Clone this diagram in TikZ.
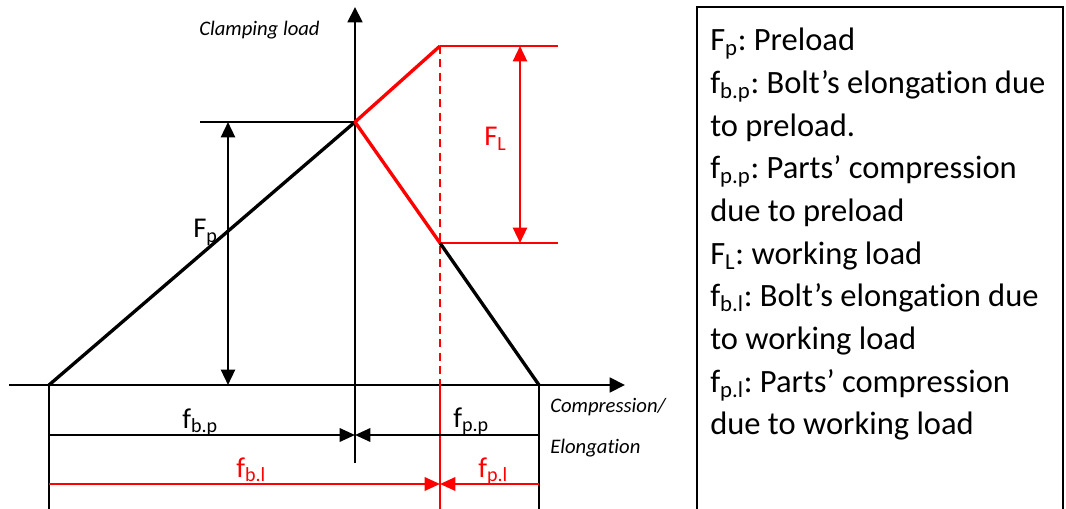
\documentclass[tikz,border=0pt]{standalone}
\usepackage{fontspec}
\setmainfont[Ligatures=NoCommon]{Carlito}
\usetikzlibrary{arrows.meta}
\definecolor{dred}{RGB}{255,0,0}
\tikzset{
  axisline/.style={line width=2.1pt,-{Triangle[length=11.5pt,width=11pt]}},
  curve/.style={line width=2.5pt,line join=round},
  thinline/.style={line width=1.2pt},
  dimline/.style={line width=1.8pt,-{Triangle[length=11.5pt,width=10pt]}},
  loadarrow/.style={line width=1.8pt,{Triangle[length=11.5pt,width=10.5pt]}-{Triangle[length=11.5pt,width=10.5pt]}},
  lbl/.style={font=\fontsize{21.5pt}{24pt}\selectfont,inner sep=0pt,anchor=base west},
  axlbl/.style={font=\fontsize{15.5pt}{18pt}\selectfont\itshape,inner sep=0pt,anchor=base west},
}
\begin{document}
\frenchspacing
\begin{tikzpicture}[x=0.75pt,y=-0.75pt]
\clip (0,0) rectangle (1066,509);
\fill[white] (0,0) rectangle (1066,509);
% key points
\coordinate (xs) at (9,385);
\coordinate (xe) at (625,385);
\coordinate (ys) at (355,463);
\coordinate (ye) at (355,7);
\coordinate (A) at (49,385);
\coordinate (P) at (355,122);
\coordinate (T) at (440,46);
\coordinate (Q) at (440,243);
\coordinate (B) at (539,385);
\coordinate (D) at (440,385);
\coordinate (Ab) at (49,515);
\coordinate (Bb) at (539,515);
\coordinate (Db) at (440,515);
\coordinate (Ph) at (200,122);
\coordinate (Te) at (558,46);
\coordinate (Qe) at (558,243);
\coordinate (Fp1) at (228,122);
\coordinate (Fp2) at (228,385);
\coordinate (FL1) at (520,46);
\coordinate (FL2) at (520,243);
\coordinate (d1a) at (49,435);
\coordinate (d1m) at (355,435);
\coordinate (d1b) at (539,435);
\coordinate (d2a) at (49,484);
\coordinate (d2m) at (440,484);
\coordinate (d2b) at (539,484);

% axes
\draw[axisline] (xs) -- (xe);
\draw[axisline] (ys) -- (ye);

% thin helper lines
\draw[thinline] (Ph) -- (P);
\draw[thinline] (A) -- (Ab);
\draw[thinline] (B) -- (Bb);
\draw[thinline,dred] (T) -- (Te);
\draw[thinline,dred] (Q) -- (Qe);
\draw[line width=1.4pt,dred,dash pattern=on 6pt off 4pt] (T) -- (D);
\draw[line width=1.4pt,dred] (D) -- (Db);

% characteristic lines
\draw[curve] (A) -- (P);
\draw[curve] (Q) -- (B);
\draw[curve,dred] (T) -- (P) -- (Q);

% load arrows
\draw[loadarrow] (Fp1) -- (Fp2);
\draw[loadarrow,dred] (FL1) -- (FL2);

% dimension arrows
\draw[dimline] (d1a) -- (d1m);
\draw[dimline] (d1b) -- (d1m);
\draw[dimline,dred] (d2a) -- (d2m);
\draw[dimline,dred] (d2b) -- (d2m);

% labels
\node[lbl] (lFp) at (193,238) {F\textsubscript{p}};
\node[lbl,dred] (lFL) at (484,146) {F\textsubscript{L}};
\node[lbl] (lfbp) at (182,428) {f\textsubscript{b.p}};
\node[lbl] (lfpp) at (453,427) {f\textsubscript{p.p}};
\node[lbl,dred] (lfbl) at (236,477) {f\textsubscript{b.l}};
\node[lbl,dred] (lfpl) at (478,477) {f\textsubscript{p.l}};
\node[axlbl] (lcl) at (199,36) {Clamping load};
\node[axlbl] (lco) at (550,412) {Compression/};
\node[axlbl] (lel) at (550,453) {Elongation};

% legend
\draw[line width=1.1pt] (697,7) rectangle (1063,540);
\node[inner sep=0pt,anchor=north west,align=left,
      font=\fontsize{24.4pt}{32pt}\selectfont] (legend) at (710,28) {%
F\textsubscript{p}: Preload\\
f\textsubscript{b.p}: Bolt’s elongation due\\
to preload.\\
f\textsubscript{p.p}: Parts’ compression\\
due to preload\\
F\textsubscript{L}: working load\\
f\textsubscript{b.l}: Bolt’s elongation due\\
to working load\\
f\textsubscript{p.l}: Parts’ compression\\
due to working load};
\end{tikzpicture}
\end{document}
